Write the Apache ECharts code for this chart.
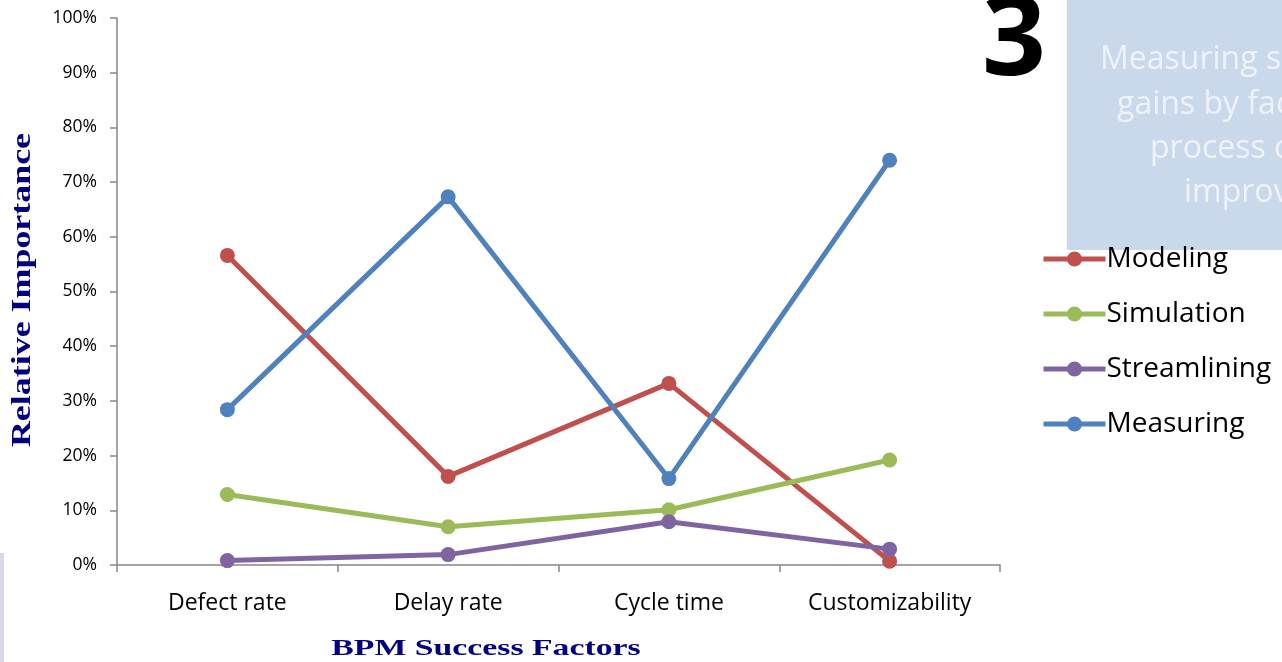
<!DOCTYPE html>
<html>
<head>
<meta charset="utf-8">
<style>
html,body{margin:0;padding:0;background:#fff;}
#chart{width:1282px;height:662px;}
</style>
<script src="https://cdn.jsdelivr.net/npm/echarts@6/dist/echarts.min.js"></script>
</head>
<body>
<div id="chart"></div>
<script>
const categories = ['Defect rate', 'Delay rate', 'Cycle time', 'Customizability'];
const modeling = [56.6, 16.2, 33.2, 0.7];
const simulation = [12.9, 7.0, 10.1, 19.2];
const streamlining = [0.8, 1.9, 7.9, 2.9];
const measuring = [28.4, 67.3, 15.8, 74.0];
const seriesNames = ['Modeling', 'Simulation', 'Streamlining', 'Measuring'];
const seriesColors = ['#c0504d', '#9bbb59', '#8064a2', '#4f81bd'];
const yTicks = [0, 10, 20, 30, 40, 50, 60, 70, 80, 90, 100];
const boxLines = ['Measuring savings', 'gains by factoring', 'process cost', 'improvements'];

const chart = echarts.init(document.getElementById('chart'), null, {renderer: 'canvas'});
const data = [modeling, simulation, streamlining, measuring];

const boxTextPos = [[1100, 60], [1117, 105], [1150, 149], [1184, 193]];

const option = {
  animation: false,
  backgroundColor: '#ffffff',
  grid: {left: 117, top: 18, right: 282, bottom: 97, containLabel: false},
  legend: {
    orient: 'vertical',
    left: 1036,
    top: 240,
    itemWidth: 62,
    itemHeight: 19,
    itemGap: 27,
    lineStyle: {width: 5},
    textStyle: {fontFamily: 'Open Sans', fontSize: 28, color: '#000', padding: [0, 0, 0, -4]},
    data: seriesNames,
    z: 10
  },
  xAxis: {
    type: 'category',
    data: categories,
    boundaryGap: true,
    axisLine: {lineStyle: {color: '#868686', width: 1.5}},
    axisTick: {show: true, length: 7, lineStyle: {color: '#868686', width: 1.5}},
    axisLabel: {fontFamily: 'Open Sans', fontSize: 23, color: '#000', margin: 27}
  },
  yAxis: {
    type: 'value',
    min: 0,
    max: 100,
    interval: 10,
    axisLine: {show: true, lineStyle: {color: '#868686', width: 1.5}},
    axisTick: {show: true, length: 7, lineStyle: {color: '#868686', width: 1.5}},
    splitLine: {show: false},
    axisLabel: {fontFamily: 'Open Sans', fontSize: 17.5, color: '#000', margin: 20,
      formatter: function (v) { return yTicks.indexOf(v) >= 0 ? v + '%' : ''; }}
  },
  graphic: [
    {type: 'rect', shape: {x: 0, y: 553, width: 4, height: 109}, style: {fill: '#ddd5ea'}, z: 0},
    {type: 'rect', shape: {x: 1067, y: 0, width: 215, height: 250}, style: {fill: '#c9d8ea'}, z: 0},
    ...boxLines.map((t, i) => ({
      type: 'text', x: boxTextPos[i][0], y: boxTextPos[i][1], z: 1,
      style: {text: t, fontFamily: 'Open Sans', fontSize: 32, fill: '#eef3fa', textAlign: 'left', textVerticalAlign: 'middle'}
    })),
    {type: 'text', x: 1014, y: 43, z: 1,
      style: {text: '3', fontFamily: 'Open Sans', fontWeight: 'bold', fontSize: 112, fill: '#000', textAlign: 'center', textVerticalAlign: 'middle'}},
    {type: 'text', x: 486, y: 649, scaleX: 1.5, z: 1,
      style: {text: 'BPM Success Factors', fontFamily: 'Liberation Serif', fontWeight: 'bold', fontSize: 22.5, fill: '#000080', textAlign: 'center', textVerticalAlign: 'middle'}},
    {type: 'text', x: 23, y: 290, rotation: Math.PI / 2, scaleX: 1.33, z: 1,
      style: {text: 'Relative Importance', fontFamily: 'Liberation Serif', fontWeight: 'bold', fontSize: 27, fill: '#000080', textAlign: 'center', textVerticalAlign: 'middle'}}
  ],
  series: seriesNames.map((n, i) => ({
    name: n,
    type: 'line',
    data: data[i],
    symbol: 'circle',
    symbolSize: 15,
    lineStyle: {width: 5, color: seriesColors[i]},
    itemStyle: {color: seriesColors[i]},
    z: 3
  }))
};
chart.setOption(option);
</script>
</body>
</html>
